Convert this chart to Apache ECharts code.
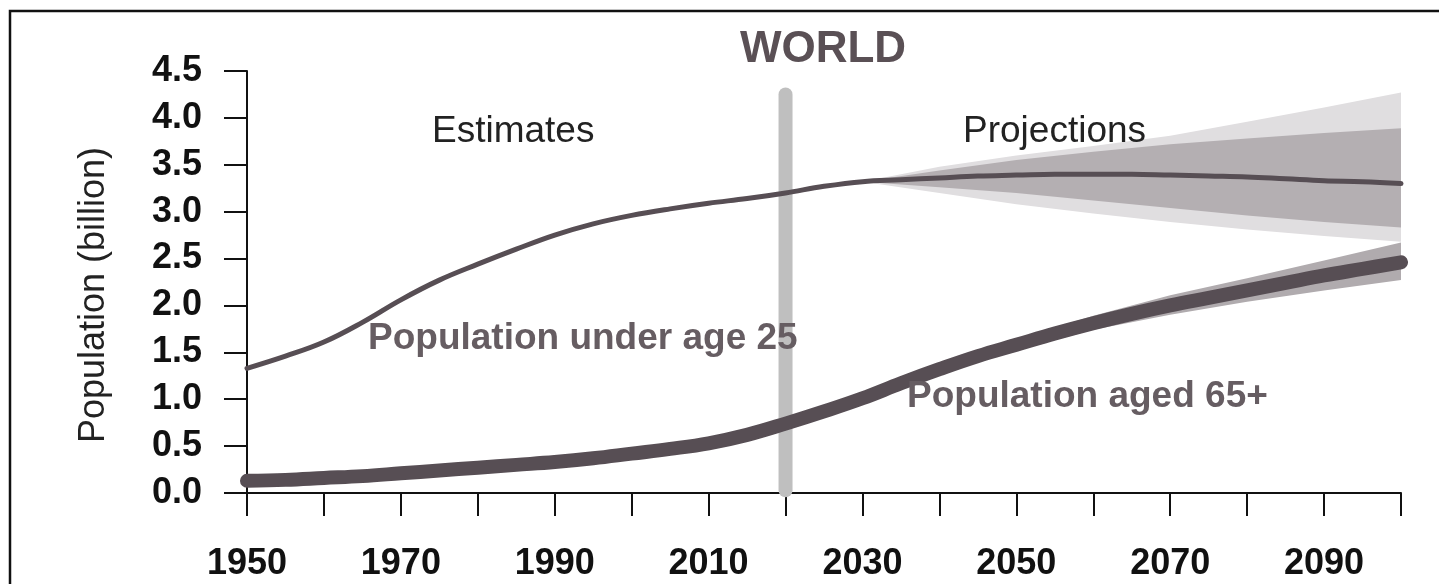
<!DOCTYPE html>
<html>
<head>
<meta charset="utf-8">
<script src="https://cdn.jsdelivr.net/npm/echarts@6/dist/echarts.min.js"></script>
<style>
  html, body { margin: 0; padding: 0; background: #fff; }
  #chart { width: 1439px; height: 584px; }
</style>
</head>
<body>
<div id="chart"></div>
<script>
// World population by age group, estimates 1950-2020 and projections to 2100 (billion)
const years = [1950,1955,1960,1965,1970,1975,1980,1985,1990,1995,2000,2005,2010,2015,2020,2025,2030,2035,2040,2045,2050,2055,2060,2065,2070,2075,2080,2085,2090,2095,2100];
const under25 = [1.33,1.46,1.61,1.82,2.06,2.27,2.44,2.60,2.75,2.87,2.96,3.03,3.09,3.14,3.20,3.27,3.32,3.34,3.36,3.38,3.39,3.40,3.40,3.40,3.39,3.38,3.37,3.35,3.33,3.32,3.30];
const aged65 = [0.13,0.14,0.16,0.18,0.21,0.24,0.27,0.30,0.33,0.37,0.42,0.47,0.53,0.62,0.74,0.87,1.01,1.17,1.32,1.46,1.58,1.70,1.81,1.91,2.00,2.08,2.16,2.24,2.32,2.39,2.46];

// Projection intervals for the under-25 population
const bandYears = [2030,2040,2050,2060,2070,2080,2090,2100];
const u25OuterHigh = [3.32,3.48,3.60,3.70,3.81,3.96,4.11,4.27];
const u25InnerHigh = [3.32,3.44,3.55,3.64,3.72,3.78,3.84,3.89];
const u25InnerLow  = [3.32,3.26,3.20,3.12,3.04,2.96,2.89,2.83];
const u25OuterLow  = [3.32,3.20,3.08,2.98,2.89,2.81,2.74,2.68];

// Projection interval for the 65+ population
const a65Years = [2020,2030,2040,2050,2060,2070,2080,2090,2100];
const a65Low  = [0.74,0.99,1.29,1.52,1.74,1.90,2.04,2.16,2.27];
const a65High = [0.74,1.03,1.36,1.64,1.89,2.11,2.29,2.48,2.67];

// Axis ticks
const yTicks = [0,0.5,1,1.5,2,2.5,3,3.5,4,4.5];
const xLabelYears = [1950,1970,1990,2010,2030,2050,2070,2090];
const divideYear = 2020;

const FONT = "'Liberation Sans', Arial, Helvetica, sans-serif";
const LINE = '#574e54';

function pairs(xs, ys) { return xs.map((x, i) => [x, ys[i]]); }

function band(xs, lo, hi, color, z) {
  return {
    type: 'custom', z: z, silent: true,
    data: [[xs[0], lo[0]]],
    renderItem: function (params, api) {
      const pts = [];
      for (let i = 0; i < xs.length; i++) pts.push(api.coord([xs[i], hi[i]]));
      for (let i = xs.length - 1; i >= 0; i--) pts.push(api.coord([xs[i], lo[i]]));
      return { type: 'polygon', shape: { points: pts }, style: { fill: color } };
    }
  };
}

const chart = echarts.init(document.getElementById('chart'), null, { renderer: 'canvas' });

chart.setOption({
  animation: false,
  backgroundColor: '#fff',
  grid: { left: 247, right: 38, top: 71, bottom: 91 },
  xAxis: {
    type: 'value', min: 1950, max: 2100, interval: 10,
    axisLine: { lineStyle: { color: '#111', width: 2 } },
    axisTick: { show: true, length: 23, lineStyle: { color: '#111', width: 2 } },
    splitLine: { show: false },
    axisLabel: {
      margin: 53, fontFamily: FONT, fontSize: 36, fontWeight: 'bold', color: '#111',
      formatter: v => xLabelYears.indexOf(v) >= 0 ? String(v) : ''
    }
  },
  yAxis: {
    type: 'value', min: 0, max: 4.5, interval: 0.5,
    axisLine: { show: true, lineStyle: { color: '#111', width: 2 } },
    axisTick: { show: true, length: 23, lineStyle: { color: '#111', width: 2 } },
    splitLine: { show: false },
    axisLabel: {
      margin: 45, fontFamily: FONT, fontSize: 36, fontWeight: 'bold', color: '#111',
      formatter: v => yTicks.indexOf(v) >= 0 ? v.toFixed(1) : ''
    }
  },
  series: [
    band(bandYears, u25OuterLow, u25OuterHigh, '#e0dee0', 1),
    band(bandYears, u25InnerLow, u25InnerHigh, '#b4afb2', 2),
    band(a65Years, a65Low, a65High, '#b0abae', 2),
    {
      type: 'line', z: 3, silent: true, showSymbol: false,
      data: [[divideYear, 0.03], [divideYear, 4.25]],
      lineStyle: { color: '#bfbfbf', width: 14, cap: 'round' }
    },
    {
      name: 'Population under age 25', type: 'line', z: 5, smooth: 0.4, showSymbol: false,
      data: pairs(years, under25),
      lineStyle: { color: LINE, width: 5, cap: 'round' }
    },
    {
      name: 'Population aged 65+', type: 'line', z: 5, smooth: 0.4, showSymbol: false,
      data: pairs(years, aged65),
      lineStyle: { color: LINE, width: 14, cap: 'round' }
    }
  ],
  graphic: [
    {
      type: 'polyline', z: 10, silent: true,
      shape: { points: [[10, 584], [10, 11], [1439, 11]] },
      style: { stroke: '#111', lineWidth: 2.5, fill: null }
    },
    {
      type: 'text', z: 10, x: 823, y: 50,
      style: { text: 'WORLD', font: 'bold 44px ' + FONT, fill: '#5a5055', align: 'center', verticalAlign: 'middle' }
    },
    {
      type: 'text', z: 10, x: 432, y: 132,
      style: { text: 'Estimates', font: '37px ' + FONT, fill: '#222', align: 'left', verticalAlign: 'middle' }
    },
    {
      type: 'text', z: 10, x: 963, y: 132,
      style: { text: 'Projections', font: '37px ' + FONT, fill: '#222', align: 'left', verticalAlign: 'middle' }
    },
    {
      type: 'text', z: 10, x: 368, y: 339,
      style: { text: 'Population under age 25', font: 'bold 37px ' + FONT, fill: '#665d62', align: 'left', verticalAlign: 'middle' }
    },
    {
      type: 'text', z: 10, x: 907, y: 397,
      style: { text: 'Population aged 65+', font: 'bold 37px ' + FONT, fill: '#665d62', align: 'left', verticalAlign: 'middle' }
    },
    {
      type: 'text', z: 10, x: 94, y: 295, rotation: Math.PI / 2,
      style: { text: 'Population (billion)', font: '36px ' + FONT, fill: '#222', align: 'center', verticalAlign: 'middle' }
    }
  ]
});
</script>
</body>
</html>
